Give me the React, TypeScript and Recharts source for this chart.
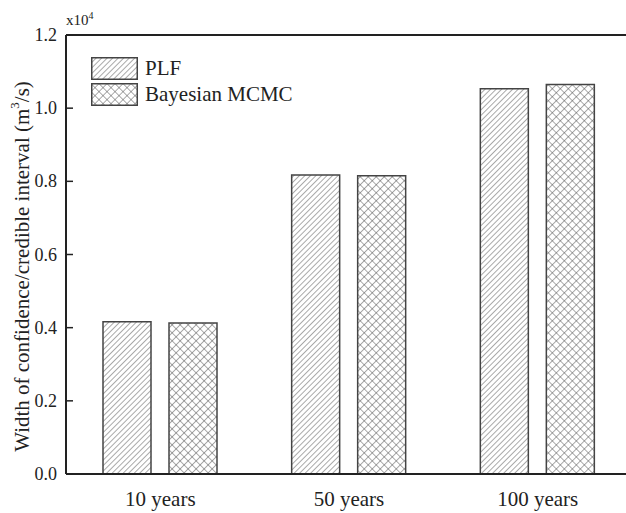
import React from 'react';
import { BarChart, Bar, XAxis, YAxis, ReferenceLine } from 'recharts';

const categories = ['10 years', '50 years', '100 years'];
const plfValues = [0.416, 0.817, 1.053];
const mcmcValues = [0.413, 0.815, 1.065];
const yTicks = [0, 0.2, 0.4, 0.6, 0.8, 1.0, 1.2];
const seriesNames = ['PLF', 'Bayesian MCMC'];

const data = categories.map((c, i) => ({ cat: c, plf: plfValues[i], mcmc: mcmcValues[i] }));

const FONT = '"Liberation Serif", "DejaVu Serif", serif';
const AXIS = '#222';
const EDGE = '#444';
const HATCH = '#555';

const Patterns = ({ prefix }: { prefix: string }) => (
  <defs>
    <pattern id={`${prefix}diag`} patternUnits="userSpaceOnUse" width="3.9" height="3.9" patternTransform="rotate(45)">
      <rect width="3.9" height="3.9" fill="#fff" />
      <line x1="0" y1="0" x2="0" y2="3.9" stroke={HATCH} strokeWidth="1" />
    </pattern>
    <pattern id={`${prefix}cross`} patternUnits="userSpaceOnUse" width="5.66" height="5.66" patternTransform="rotate(45)">
      <rect width="5.66" height="5.66" fill="#fff" />
      <line x1="0" y1="0" x2="0" y2="5.66" stroke={HATCH} strokeWidth="1" />
      <line x1="0" y1="0" x2="5.66" y2="0" stroke={HATCH} strokeWidth="1" />
    </pattern>
  </defs>
);

const YTick = (props: any) => {
  const { y, payload } = props;
  return (
    <g>
      <line x1={66} x2={73} y1={y} y2={y} stroke={AXIS} strokeWidth={1.5} />
      <text x={57} y={y} dy={6} textAnchor="end" style={{ fontFamily: FONT, fontSize: 18 }} fill="#222">
        {Number(payload.value).toFixed(1)}
      </text>
    </g>
  );
};

const XTick = (props: any) => {
  const { x, payload } = props;
  return (
    <text x={x} y={506} textAnchor="middle" style={{ fontFamily: FONT, fontSize: 21 }} fill="#222">
      {payload.value}
    </text>
  );
};

const YLabel = (props: any) => {
  const vb = props.viewBox || {};
  const cy = (vb.y || 35) + (vb.height || 439) / 2 + 12;
  return (
    <text
      x={22}
      y={cy}
      transform={`rotate(-90, 22, ${cy})`}
      textAnchor="middle"
      dominantBaseline="central"
      style={{ fontFamily: FONT, fontSize: 21 }}
      fill="#222"
    >
      Width of confidence/credible interval (m<tspan baselineShift="super" style={{ fontSize: 13 }}>3</tspan>/s)
    </text>
  );
};

const LegendBox = () => (
  <div style={{ position: 'absolute', left: 91, top: 57, fontFamily: FONT, fontSize: 21, color: '#222' }}>
    {seriesNames.map((name, i) => (
      <div key={name} style={{ display: 'flex', alignItems: 'center', height: 22, marginBottom: 4 }}>
        <svg width={47} height={23} style={{ display: 'block' }}>
          <Patterns prefix={`lg${i}`} />
          <rect x={0.75} y={0.75} width={45.5} height={21.5} fill={`url(#lg${i}${i === 0 ? 'diag' : 'cross'})`} stroke={EDGE} strokeWidth={1.5} />
        </svg>
        <span style={{ marginLeft: 7, lineHeight: '22px' }}>{name}</span>
      </div>
    ))}
  </div>
);

export default function App() {
  return (
    <div style={{ position: 'absolute', left: 0, top: 0, width: 626, height: 513, overflow: 'hidden', background: '#fff' }}>
      <BarChart
        width={632}
        height={513}
        data={data}
        margin={{ top: 35, right: 0, bottom: 0, left: 0 }}
        barSize={48}
        barGap={18}
      >
        <Patterns prefix="bar" />
        <XAxis
          dataKey="cat"
          height={39}
          tickLine={false}
          axisLine={{ stroke: AXIS, strokeWidth: 2 }}
          tick={<XTick />}
          interval={0}
        />
        <YAxis
          width={66}
          domain={[0, 1.2]}
          ticks={yTicks}
          tickLine={false}
          axisLine={{ stroke: AXIS, strokeWidth: 2 }}
          tick={<YTick />}
          interval={0}
          label={<YLabel />}
        />
        <ReferenceLine y={1.2} stroke={AXIS} strokeWidth={2} />
        <Bar dataKey="plf" name={seriesNames[0]} fill="url(#bardiag)" stroke={EDGE} strokeWidth={1.5} isAnimationActive={false} />
        <Bar dataKey="mcmc" name={seriesNames[1]} fill="url(#barcross)" stroke={EDGE} strokeWidth={1.5} isAnimationActive={false} />
      </BarChart>
      <div style={{ position: 'absolute', left: 66, top: 6, fontFamily: FONT, fontSize: 15, color: '#222', lineHeight: '20px' }}>
        x10<sup style={{ fontSize: 10 }}>4</sup>
      </div>
      <LegendBox />
    </div>
  );
}
